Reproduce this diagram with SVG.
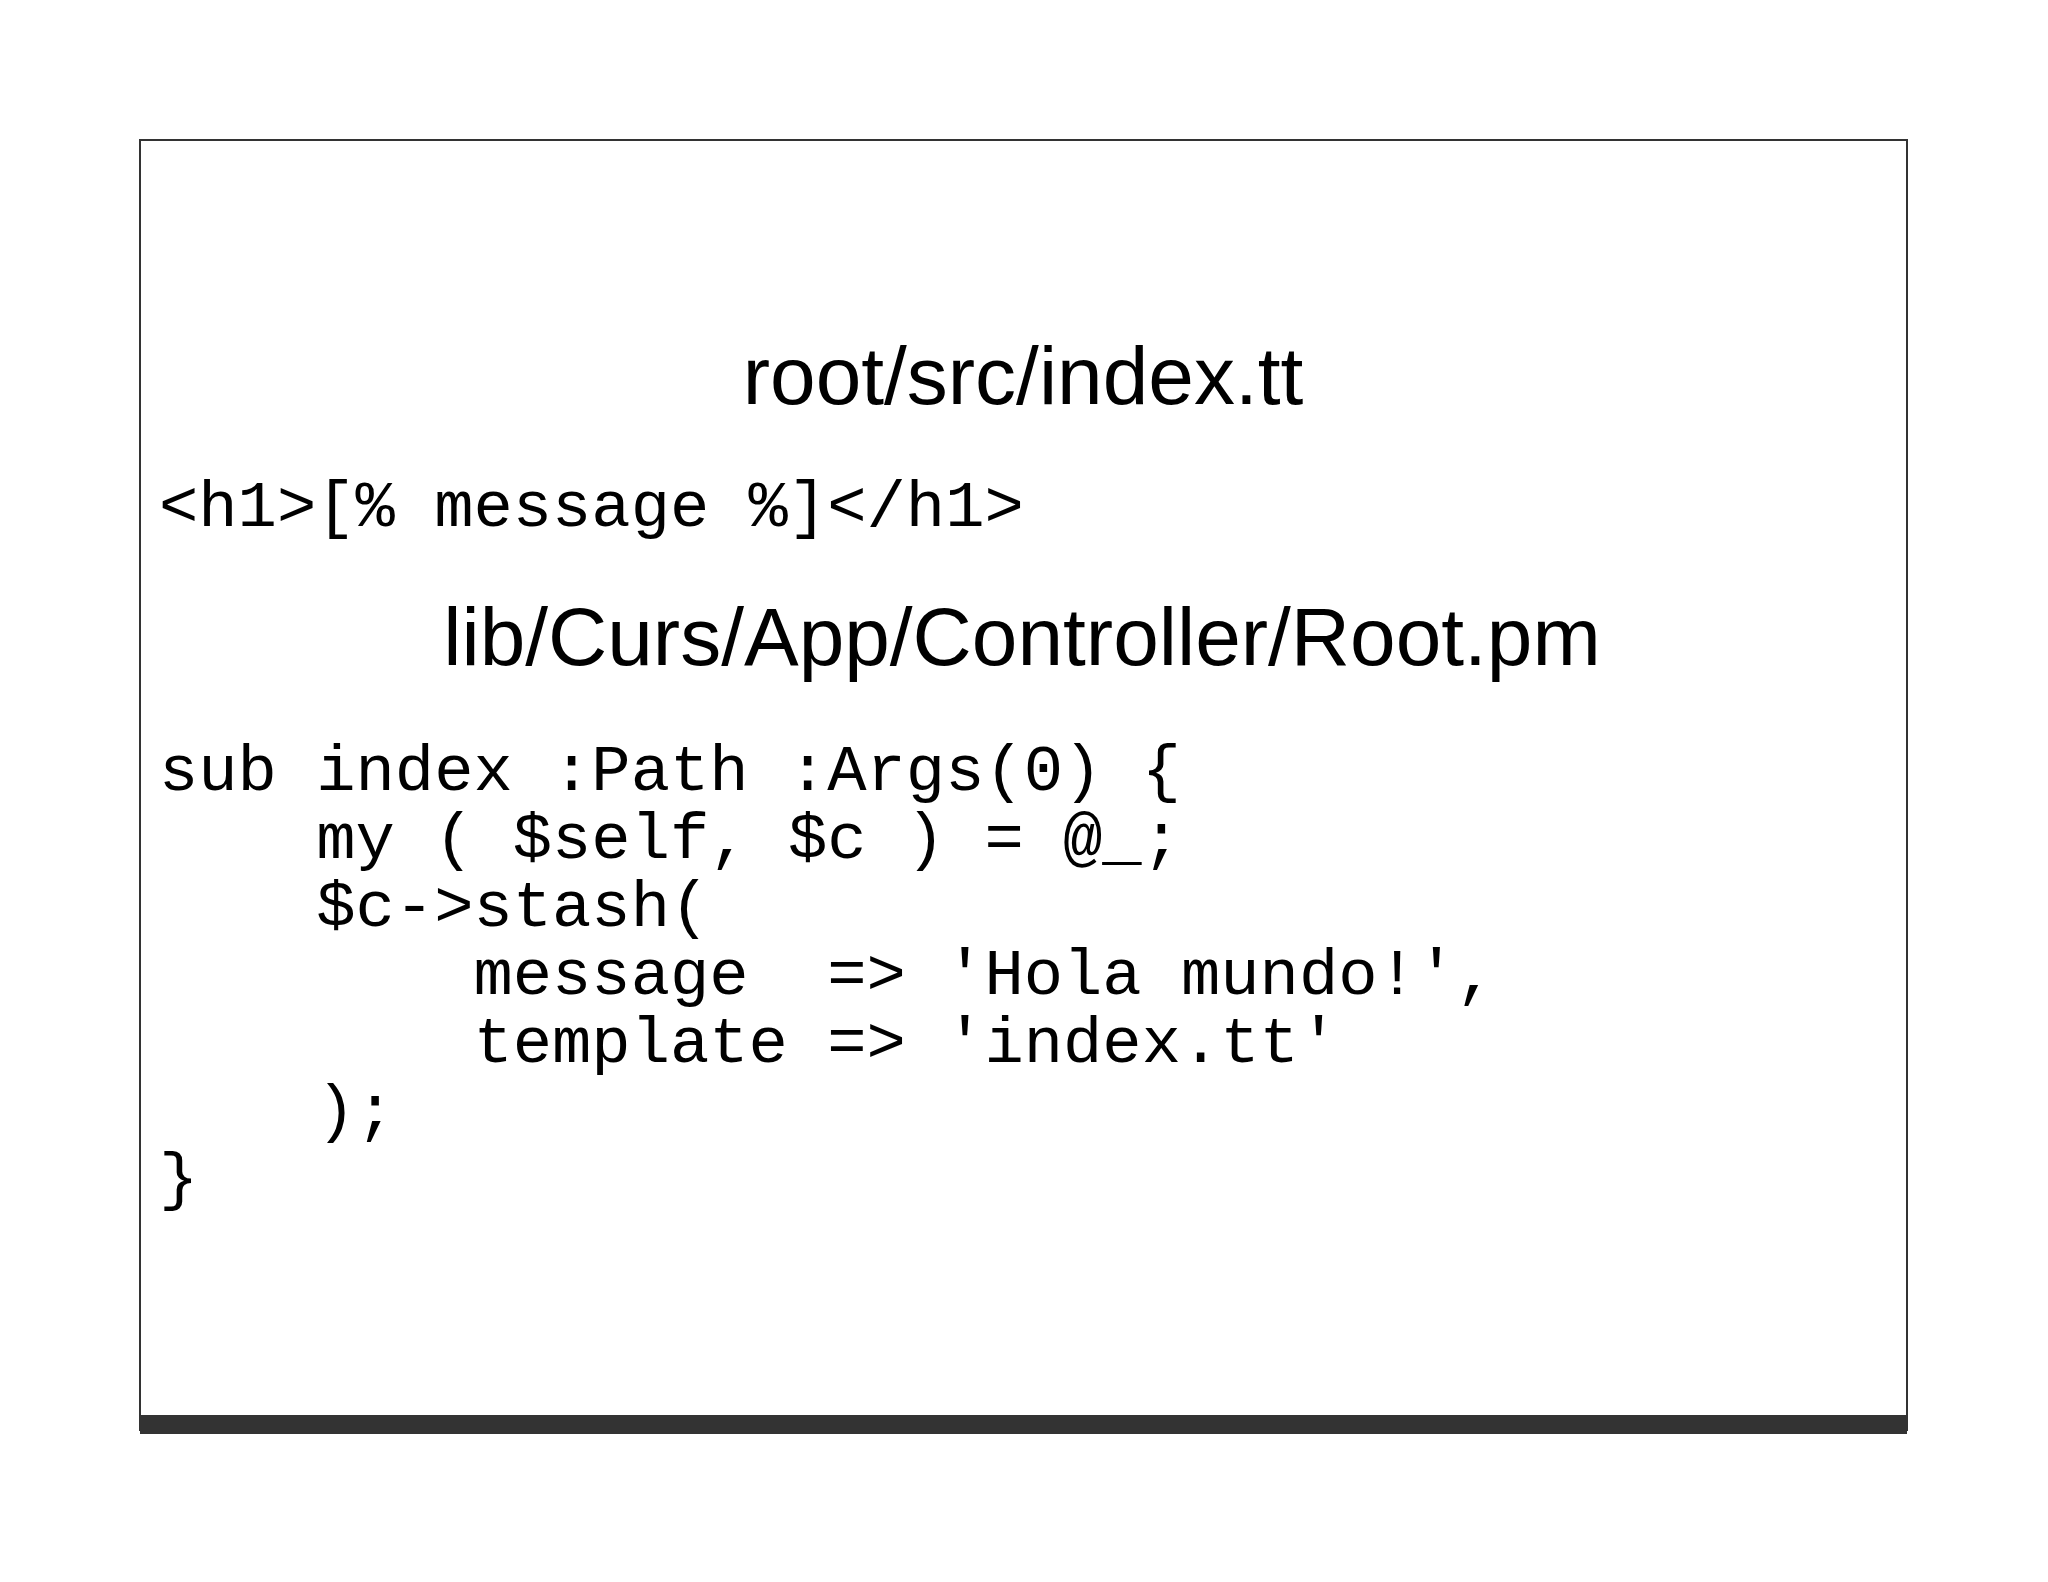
<svg xmlns="http://www.w3.org/2000/svg" width="2048" height="1582" viewBox="0 0 2048 1582">
<style>
.t{font-family:"Liberation Sans",Arial,sans-serif;font-size:82px;fill:#000;text-anchor:middle}
.c{font-family:"Liberation Mono","Courier New",monospace;font-size:65.5px;fill:#000;white-space:pre}
</style>
<rect width="2048" height="1582" fill="#fff"/>
<g id="slide">
<rect x="140" y="140" width="1767" height="1290" fill="#fff" stroke="#333" stroke-width="2"/>
<rect x="140" y="1415" width="1767" height="19" fill="#333"/>
</g>
<g id="title1"><text class="t" x="1023" y="404">root/src/index.tt</text></g>
<g id="code1"><text class="c" x="159" y="526" xml:space="preserve">&lt;h1&gt;[% message %]&lt;/h1&gt;</text></g>
<g id="title2"><text class="t" x="1022" y="665">lib/Curs/App/Controller/Root.pm</text></g>
<g id="code2">
<text class="c" x="159" y="790" xml:space="preserve">sub index :Path :Args(0) {</text>
<text class="c" x="159" y="858" xml:space="preserve">    my ( $self, $c ) = @_;</text>
<text class="c" x="159" y="926" xml:space="preserve">    $c-&gt;stash(</text>
<text class="c" x="159" y="994" xml:space="preserve">        message  =&gt; 'Hola mundo!',</text>
<text class="c" x="159" y="1062" xml:space="preserve">        template =&gt; 'index.tt'</text>
<text class="c" x="159" y="1130" xml:space="preserve">    );</text>
<text class="c" x="159" y="1198" xml:space="preserve">}</text>
</g>
</svg>
